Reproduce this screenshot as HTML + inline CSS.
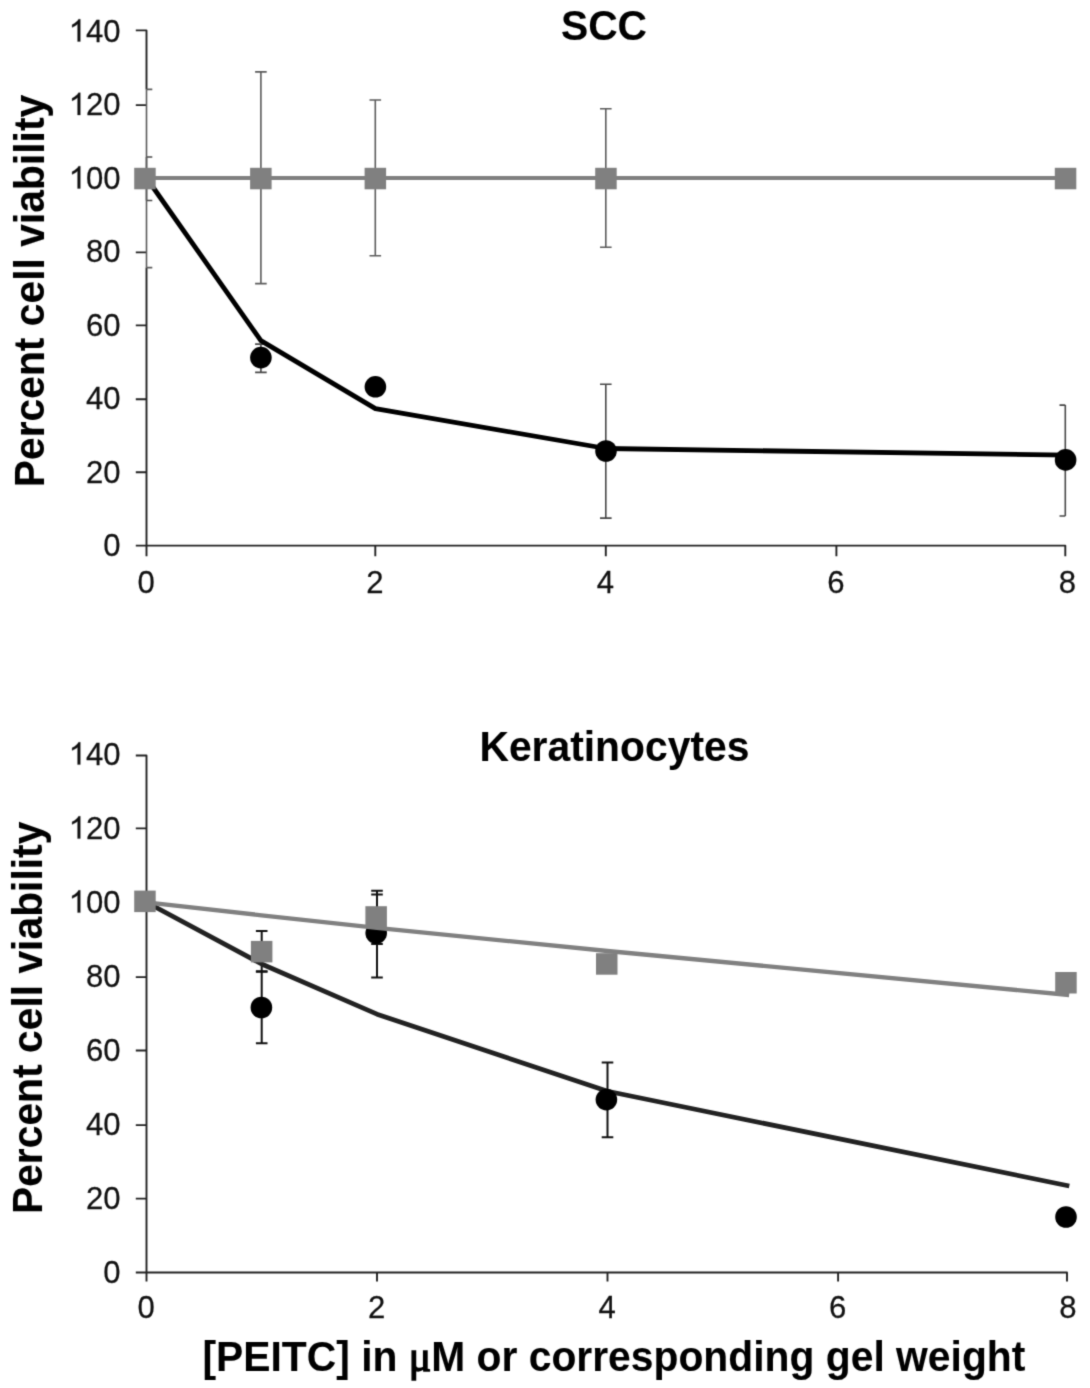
<!DOCTYPE html>
<html><head><meta charset="utf-8"><title>chart</title>
<style>
html,body{margin:0;padding:0;background:#fff;}
svg{display:block;}
text{font-family:"Liberation Sans",sans-serif;}
.tk{font-size:31.9px;fill:#111;stroke:#111;stroke-width:0.25px;}
.b{font-size:42.5px;font-weight:bold;fill:#000;stroke:#000;stroke-width:0.08px;}
</style></head><body>
<svg width="1090" height="1388" viewBox="0 0 1090 1388">
<defs><filter id="bl" x="0" y="0" width="1090" height="1388" filterUnits="userSpaceOnUse" color-interpolation-filters="sRGB"><feConvolveMatrix order="3" kernelMatrix="0.02250 0.10500 0.02250 0.10500 0.49000 0.10500 0.02250 0.10500 0.02250" edgeMode="duplicate" preserveAlpha="true"/></filter></defs>
<g filter="url(#bl)">
<rect width="1090" height="1388" fill="#fff"/>
<path d="M135.8 30.4H146.5V89.4M146.5 267.6V556.2M135.8 545.6H1065.3V556.2M135.8 472.3H146.5M135.8 399.3H146.5M135.8 325.4H146.5M135.8 252.4H146.5M135.8 178.6H146.5M135.8 105.1H146.5M375.3 545.6V556.2M605.8 545.6V556.2M836.4 545.6V556.2" fill="none" stroke="#222" stroke-width="1.9" stroke-linejoin="round" stroke-linecap="butt"/>
<text class="tk" transform="translate(120.6,556.0) scale(0.975,1)" text-anchor="end">0</text>
<text class="tk" transform="translate(120.6,482.5) scale(0.975,1)" text-anchor="end">20</text>
<text class="tk" transform="translate(120.6,409.0) scale(0.975,1)" text-anchor="end">40</text>
<text class="tk" transform="translate(120.6,335.5) scale(0.975,1)" text-anchor="end">60</text>
<text class="tk" transform="translate(120.6,262.0) scale(0.975,1)" text-anchor="end">80</text>
<text class="tk" transform="translate(120.6,188.5) scale(0.975,1)" text-anchor="end">00</text>
<path transform="translate(68.73,188.50) scale(0.015186,-0.015186)" d="M763 0L583 0L583 1147Q518 1085 412.500000 1023Q307 961 223 930L223 1104Q374 1175 487 1276Q600 1377 647 1472L763 1472Z" fill="#111" stroke="#111" stroke-width="16"/>
<text class="tk" transform="translate(120.6,115.0) scale(0.975,1)" text-anchor="end">20</text>
<path transform="translate(68.73,115.00) scale(0.015186,-0.015186)" d="M763 0L583 0L583 1147Q518 1085 412.500000 1023Q307 961 223 930L223 1104Q374 1175 487 1276Q600 1377 647 1472L763 1472Z" fill="#111" stroke="#111" stroke-width="16"/>
<text class="tk" transform="translate(120.6,41.5) scale(0.975,1)" text-anchor="end">40</text>
<path transform="translate(68.73,41.50) scale(0.015186,-0.015186)" d="M763 0L583 0L583 1147Q518 1085 412.500000 1023Q307 961 223 930L223 1104Q374 1175 487 1276Q600 1377 647 1472L763 1472Z" fill="#111" stroke="#111" stroke-width="16"/>
<text class="tk" transform="translate(146.1,593.3) scale(0.975,1)" text-anchor="middle">0</text>
<text class="tk" transform="translate(374.9,593.3) scale(0.975,1)" text-anchor="middle">2</text>
<text class="tk" transform="translate(605.4,593.3) scale(0.975,1)" text-anchor="middle">4</text>
<text class="tk" transform="translate(836.0,593.3) scale(0.975,1)" text-anchor="middle">6</text>
<text class="tk" transform="translate(1067.5,593.3) scale(0.975,1)" text-anchor="middle">8</text>
<path d="M146.5 157.0V200.5M146.5 157.0H152.3M146.5 200.5H152.3" stroke="#484848" stroke-width="1.6" fill="none"/>
<path d="M260.9 344.1V372.4M255.1 344.1H266.7M255.1 372.4H266.7" stroke="#484848" stroke-width="1.6" fill="none"/>
<path d="M605.8 384.2V518.1M600.0 384.2H611.6M600.0 518.1H611.6" stroke="#484848" stroke-width="1.6" fill="none"/>
<path d="M1065.3 405.1V516.0M1059.5 405.1H1065.3M1059.5 516.0H1065.3" stroke="#484848" stroke-width="1.6" fill="none"/>
<polyline points="146.5,178.0 260.9,340.6 375.4,408.6 606.0,448.5 1065.3,455.1" fill="none" stroke="#000" stroke-width="4.8" stroke-linejoin="round" stroke-linecap="square"/>
<circle cx="260.9" cy="357.6" r="10.8" fill="#000"/>
<circle cx="375.4" cy="386.8" r="10.8" fill="#000"/>
<circle cx="606.0" cy="451.0" r="10.8" fill="#000"/>
<circle cx="1065.6" cy="459.9" r="10.8" fill="#000"/>
<path d="M146.5 89.4V267.6M146.5 89.4H152.3M146.5 267.6H152.3" stroke="#5c5c5c" stroke-width="1.6" fill="none"/>
<path d="M260.9 71.9V283.6M255.1 71.9H266.7M255.1 283.6H266.7" stroke="#5c5c5c" stroke-width="1.6" fill="none"/>
<path d="M375.3 100.0V255.7M369.5 100.0H381.1M369.5 255.7H381.1" stroke="#5c5c5c" stroke-width="1.6" fill="none"/>
<path d="M605.8 108.7V247.3M600.0 108.7H611.6M600.0 247.3H611.6" stroke="#5c5c5c" stroke-width="1.6" fill="none"/>
<line x1="146.5" y1="178" x2="1065.3" y2="178" stroke="#808080" stroke-width="3.8"/>
<rect x="134.2" y="167.8" width="21.5" height="21.5" fill="#808080"/>
<rect x="250.1" y="167.8" width="21.5" height="21.5" fill="#808080"/>
<rect x="364.6" y="167.8" width="21.5" height="21.5" fill="#808080"/>
<rect x="595.2" y="167.8" width="21.5" height="21.5" fill="#808080"/>
<rect x="1054.8" y="167.8" width="21.5" height="21.5" fill="#808080"/>
<text class="b" transform="translate(604.0,39.5) scale(0.961,1)" text-anchor="middle">SCC</text>
<text class="b" transform="translate(43.6,487.3) rotate(-90) scale(0.961,1)" text-anchor="start">Percent cell viability</text>
<path d="M135.8 755.5H146.5V1281.5M135.8 1272.5H1067.0V1281.5M135.8 1198.6H146.5M135.8 1125.1H146.5M135.8 1050.5H146.5M135.8 977.1H146.5M135.8 902.4H146.5M135.8 828.4H146.5M377.0 1272.5V1281.5M607.5 1272.5V1281.5M838.1 1272.5V1281.5" fill="none" stroke="#222" stroke-width="1.9" stroke-linejoin="round" stroke-linecap="butt"/>
<text class="tk" transform="translate(120.6,1282.6) scale(0.975,1)" text-anchor="end">0</text>
<text class="tk" transform="translate(120.6,1208.6) scale(0.975,1)" text-anchor="end">20</text>
<text class="tk" transform="translate(120.6,1134.6) scale(0.975,1)" text-anchor="end">40</text>
<text class="tk" transform="translate(120.6,1060.6) scale(0.975,1)" text-anchor="end">60</text>
<text class="tk" transform="translate(120.6,986.6) scale(0.975,1)" text-anchor="end">80</text>
<text class="tk" transform="translate(120.6,912.6) scale(0.975,1)" text-anchor="end">00</text>
<path transform="translate(68.73,912.60) scale(0.015186,-0.015186)" d="M763 0L583 0L583 1147Q518 1085 412.500000 1023Q307 961 223 930L223 1104Q374 1175 487 1276Q600 1377 647 1472L763 1472Z" fill="#111" stroke="#111" stroke-width="16"/>
<text class="tk" transform="translate(120.6,838.6) scale(0.975,1)" text-anchor="end">20</text>
<path transform="translate(68.73,838.60) scale(0.015186,-0.015186)" d="M763 0L583 0L583 1147Q518 1085 412.500000 1023Q307 961 223 930L223 1104Q374 1175 487 1276Q600 1377 647 1472L763 1472Z" fill="#111" stroke="#111" stroke-width="16"/>
<text class="tk" transform="translate(120.6,764.6) scale(0.975,1)" text-anchor="end">40</text>
<path transform="translate(68.73,764.60) scale(0.015186,-0.015186)" d="M763 0L583 0L583 1147Q518 1085 412.500000 1023Q307 961 223 930L223 1104Q374 1175 487 1276Q600 1377 647 1472L763 1472Z" fill="#111" stroke="#111" stroke-width="16"/>
<text class="tk" transform="translate(146.1,1318.4) scale(0.975,1)" text-anchor="middle">0</text>
<text class="tk" transform="translate(376.6,1318.4) scale(0.975,1)" text-anchor="middle">2</text>
<text class="tk" transform="translate(607.1,1318.4) scale(0.975,1)" text-anchor="middle">4</text>
<text class="tk" transform="translate(837.7,1318.4) scale(0.975,1)" text-anchor="middle">6</text>
<text class="tk" transform="translate(1067.8,1318.4) scale(0.975,1)" text-anchor="middle">8</text>
<path d="M261.7 971.7V1043.2M255.9 971.7H267.5M255.9 1043.2H267.5" stroke="#111" stroke-width="2.0" fill="none"/>
<path d="M377.0 890.8V977.6M371.2 890.8H382.8M371.2 977.6H382.8" stroke="#111" stroke-width="2.0" fill="none"/>
<path d="M607.5 1062.5V1137.2M601.7 1062.5H613.3M601.7 1137.2H613.3" stroke="#111" stroke-width="2.0" fill="none"/>
<path d="M261.7 930.9V971.2M255.9 930.9H267.5M255.9 971.2H267.5" stroke="#111" stroke-width="2.0" fill="none"/>
<path d="M377.0 894.4V944.1M371.2 894.4H382.8M371.2 944.1H382.8" stroke="#111" stroke-width="2.0" fill="none"/>
<polyline points="146.5,902.3 261.6,964.0 377.0,1014.2 607.5,1091.3 1067.0,1185.5" fill="none" stroke="#222" stroke-width="4.7" stroke-linejoin="round" stroke-linecap="square"/>
<circle cx="261.4" cy="1007.5" r="10.8" fill="#000"/>
<circle cx="376.2" cy="933.1" r="10.8" fill="#000"/>
<circle cx="606.4" cy="1099.6" r="10.8" fill="#000"/>
<circle cx="1066.0" cy="1217.0" r="10.8" fill="#000"/>
<rect x="134.2" y="890.6" width="21.5" height="21.5" fill="#808080"/>
<rect x="250.9" y="940.9" width="21.5" height="21.5" fill="#808080"/>
<rect x="365.4" y="906.2" width="21.5" height="21.5" fill="#808080"/>
<rect x="596.0" y="953.2" width="21.5" height="21.5" fill="#808080"/>
<rect x="1055.2" y="972.0" width="21.5" height="21.5" fill="#808080"/>
<polyline points="146.5,902.3 261.6,915.3 377.0,927.9 607.5,951.0 1067.0,994.8" fill="none" stroke="#808080" stroke-width="4.3" stroke-linejoin="round" stroke-linecap="square"/>
<text class="b" transform="translate(614.4,761.4) scale(0.961,1)" text-anchor="middle">Keratinocytes</text>
<text class="b" transform="translate(42.1,1214.1) rotate(-90) scale(0.961,1)" text-anchor="start">Percent cell viability</text>
<text class="b" transform="translate(202.4,1371.0) scale(0.961,1)" text-anchor="start">[PEITC] in <tspan font-family="Liberation Serif" font-weight="normal" font-size="43.5" stroke-width="1.5">μ</tspan>M or corresponding gel weight</text>
</g></svg></body></html>
